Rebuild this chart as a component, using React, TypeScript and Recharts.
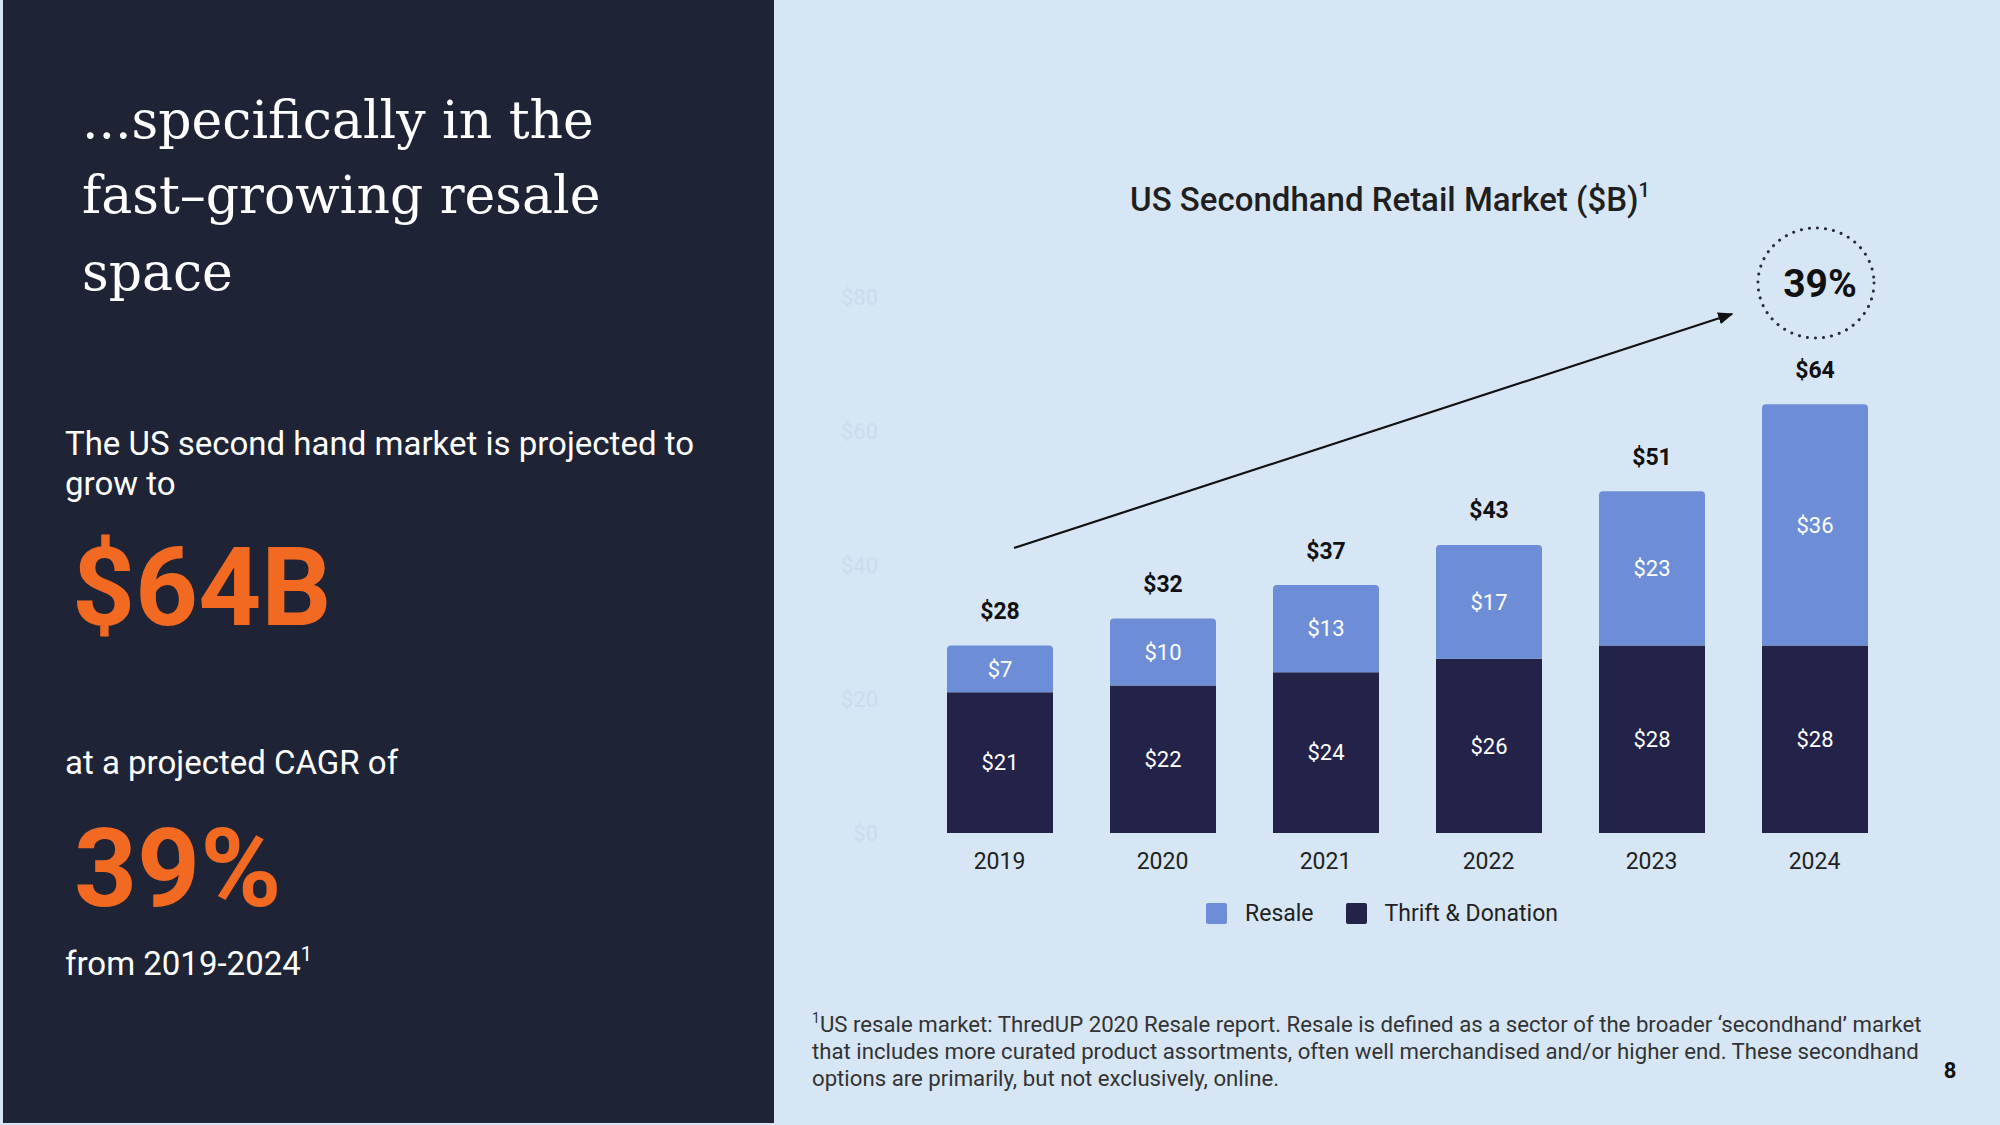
import React from "react";
import { BarChart, Bar, XAxis, YAxis, Legend, LabelList } from "recharts";

// ─── Data ─────────────────────────────────────────────────────────────────────

const years = ["2019", "2020", "2021", "2022", "2023", "2024"];
const thrift = [21, 22, 24, 26, 28, 28];
const resale = [7, 10, 13, 17, 23, 36];
const yTicks = [0, 20, 40, 60, 80];

const chartData = years.map((year, i) => ({
  year,
  thrift: thrift[i],
  resale: resale[i],
  total: thrift[i] + resale[i],
}));

// ─── Colours ──────────────────────────────────────────────────────────────────

const NAVY_PANEL = "#1e2336";
const PAGE_BG = "#d6e6f5";
const RESALE = "#6d8ed6";
const THRIFT = "#23234a";
const ORANGE = "#f26a21";
const FONT = "Roboto, 'Noto Sans', sans-serif";

// ─── Labels ───────────────────────────────────────────────────────────────────

function TotalLabel(props: any) {
  const { x, y, width, index } = props;
  return (
    <text
      x={x + width / 2}
      y={y - 34}
      textAnchor="middle"
      dominantBaseline="central"
      fontFamily={FONT}
      fontWeight={700}
      fontSize={23}
      fill="#111"
    >
      ${chartData[index].total}
    </text>
  );
}

function LegendContent() {
  const items = [
    { label: "Resale", color: RESALE },
    { label: "Thrift & Donation", color: THRIFT },
  ];
  return (
    <div
      style={{
        height: 67,
        display: "flex",
        justifyContent: "center",
        alignItems: "center",
        paddingLeft: 68,
        paddingBottom: 6,
        boxSizing: "border-box",
        fontFamily: FONT,
        fontSize: 23,
        color: "#222",
      }}
    >
      {items.map((it, i) => (
        <div
          key={it.label}
          style={{ display: "flex", alignItems: "center", marginLeft: i ? 32 : 0 }}
        >
          <span
            style={{
              width: 21,
              height: 21,
              background: it.color,
              borderRadius: 2,
              marginRight: 18,
              display: "inline-block",
            }}
          />
          <span>{it.label}</span>
        </div>
      ))}
    </div>
  );
}

// ─── Component ────────────────────────────────────────────────────────────────

export default function App() {
  return (
    <div
      style={{
        position: "absolute",
        left: 0,
        top: 0,
        width: 2000,
        height: 1125,
        background: PAGE_BG,
        overflow: "hidden",
      }}
    >
      {/* Slide text and annotations */}
      <svg width={2000} height={1125} style={{ position: "absolute", left: 0, top: 0 }}>
        <defs>
          <marker
            id="arrowHead"
            viewBox="0 0 10 10"
            refX="9"
            refY="5"
            markerWidth="7"
            markerHeight="7"
            orient="auto"
          >
            <path d="M0,1 L10,5 L0,9 z" fill="#111" />
          </marker>
        </defs>

        <rect x={3} y={0} width={771} height={1123} fill={NAVY_PANEL} />

        <g fontFamily="'DejaVu Serif', 'Liberation Serif', serif" fontSize={52} fill="#fff">
          <text x={82} y={138}>...specifically in the</text>
          <text x={82} y={213}>fast–growing resale</text>
          <text x={82} y={290}>space</text>
        </g>

        <g fontFamily={FONT} fontSize={33} fill="#fff">
          <text x={65} y={455}>The US second hand market is projected to</text>
          <text x={65} y={495}>grow to</text>
          <text x={65} y={774}>at a projected CAGR of</text>
          <text x={65} y={975}>
            from 2019-2024
            <tspan fontSize={20} dy={-14}>1</tspan>
          </text>
        </g>
        <g fontFamily={FONT} fontWeight={700} fontSize={110} fill={ORANGE}>
          <text x={72} y={625}>$64B</text>
          <text x={74} y={906}>39%</text>
        </g>

        <text
          x={1390}
          y={211}
          textAnchor="middle"
          fontFamily={FONT}
          fontWeight={500}
          fontSize={33}
          fill="#1f1f1f"
        >
          US Secondhand Retail Market ($B)
          <tspan fontSize={20} dy={-14}>1</tspan>
        </text>

        {/* growth arrow and CAGR bubble */}
        <line
          x1={1014}
          y1={548}
          x2={1732}
          y2={314}
          stroke="#111"
          strokeWidth={2.2}
          markerEnd="url(#arrowHead)"
        />
        <ellipse
          cx={1816}
          cy={283}
          rx={58}
          ry={55}
          fill="none"
          stroke="#2a2a3a"
          strokeWidth={3}
          strokeLinecap="round"
          strokeDasharray="0.1 8"
        />
        <text
          x={1820}
          y={284}
          textAnchor="middle"
          dominantBaseline="central"
          fontFamily={FONT}
          fontWeight={700}
          fontSize={39}
          fill="#111"
        >
          39%
        </text>

        <g fontFamily={FONT} fontSize={22.2} fill="#333">
          <text x={812} y={1032}>
            <tspan fontSize={14} dy={-9}>1</tspan>
            <tspan dy={9}>
              US resale market: ThredUP 2020 Resale report. Resale is defined as a sector of the broader ‘secondhand’ market
            </tspan>
          </text>
          <text x={812} y={1059}>
            that includes more curated product assortments, often well merchandised and/or higher end. These secondhand
          </text>
          <text x={812} y={1086}>options are primarily, but not exclusively, online.</text>
        </g>
        <text x={1950} y={1078} textAnchor="middle" fontFamily={FONT} fontWeight={700} fontSize={22} fill="#111">
          8
        </text>
      </svg>

      {/* Chart */}
      <div style={{ position: "absolute", left: 800, top: 250 }}>
        <BarChart
          width={1120}
          height={700}
          data={chartData}
          margin={{ top: 47, right: 24, left: 0, bottom: 0 }}
        >
          <XAxis
            dataKey="year"
            axisLine={false}
            tickLine={false}
            tickSize={8}
            tickMargin={12}
            height={50}
            tick={{ fontSize: 23, fill: "#222", fontFamily: FONT }}
          />
          <YAxis
            domain={[0, 80]}
            ticks={yTicks}
            width={118}
            axisLine={false}
            tickLine={false}
            tickSize={0}
            tickMargin={40}
            tickFormatter={(v) => `$${v}`}
            tick={{ fontSize: 22, fill: "#cbdcee", fontFamily: FONT }}
          />
          <Legend verticalAlign="bottom" content={<LegendContent />} />
          <Bar
            dataKey="thrift"
            name="Thrift & Donation"
            stackId="a"
            fill={THRIFT}
            barSize={106}
            isAnimationActive={false}
          >
            <LabelList
              dataKey="thrift"
              position="center"
              formatter={(v: any) => `$${v}`}
              style={{ fill: "#fff", fontSize: 22, fontFamily: FONT }}
            />
          </Bar>
          <Bar
            dataKey="resale"
            name="Resale"
            stackId="a"
            fill={RESALE}
            barSize={106}
            radius={[4, 4, 0, 0]}
            isAnimationActive={false}
          >
            <LabelList
              dataKey="resale"
              position="center"
              formatter={(v: any) => `$${v}`}
              style={{ fill: "#fff", fontSize: 22, fontFamily: FONT }}
            />
            <LabelList dataKey="total" content={<TotalLabel />} />
          </Bar>
        </BarChart>
      </div>
    </div>
  );
}
